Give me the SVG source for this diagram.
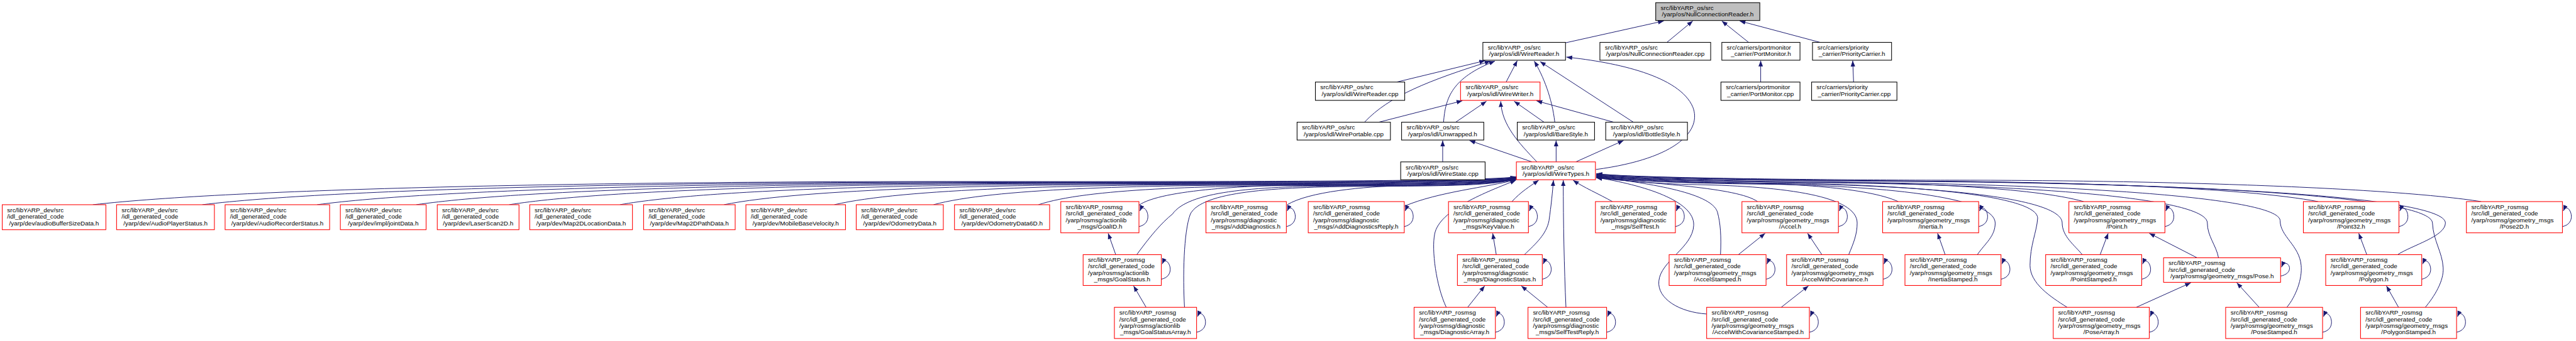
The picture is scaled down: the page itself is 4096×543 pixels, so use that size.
<svg xmlns="http://www.w3.org/2000/svg" width="4096" height="543" viewBox="0 0 4096 543">
<style>
.n rect{fill:#fff;stroke:#000;stroke-width:1.5}
.r rect{stroke:#f00}
.g rect{fill:#bfbfbf}
text{font-family:"Liberation Sans",Arial,sans-serif;font-size:14px;fill:#000}
.c{text-anchor:middle}
#edges path{fill:none;stroke:#191970;stroke-width:1.4;marker-end:url(#ah)}
</style>
<defs>
<marker id="ah" markerUnits="userSpaceOnUse" markerWidth="14" markerHeight="11" viewBox="0 0 14 11" refX="13" refY="5.5" orient="auto"><path d="M0,0.5 L13,5.5 L0,10.5 z" fill="#191970"/></marker>
</defs>
<rect width="4096" height="543" fill="#fff"/>
<g transform="scale(0.7102)">
<g id="edges">
<path d="M3505,96 L3725,47"/>
<path d="M3732,95 L3790,47"/>
<path d="M3915,95 L3855,47"/>
<path d="M4075,95 L3895,47"/>
<path d="M3942,184 L3942,136"/>
<path d="M4150,184 L4148,136"/>
<path d="M3127,184 L3325,136"/>
<path d="M3372,184 L3397,136"/>
<path d="M3055,274 C3110,215 3200,180 3337,137"/>
<path d="M3232,274 C3236,220 3250,175 3347,137"/>
<path d="M3481,274 C3475,220 3455,170 3435,137"/>
<path d="M3657,274 L3448,138"/>
<path d="M3573,380 C3760,355 3810,290 3790,240 C3760,170 3620,140 3507,128"/>
<path d="M3087,274 L3274,226"/>
<path d="M3259,274 L3328,227"/>
<path d="M3457,274 L3390,227"/>
<path d="M3613,274 L3440,226"/>
<path d="M3441,363 C3400,320 3362,280 3360,227"/>
<path d="M3230,363 L3230,315"/>
<path d="M3430,363 L3290,315"/>
<path d="M3484,363 L3484,315"/>
<path d="M3528,363 L3635,315"/>

<path d="M208,459 C527,423 1323,407 2120,407 C2439,407 3340,409 3395,396"/>
<path d="M453,459 C747,423 1483,408 2218,408 C2512,408 3340,410 3395,397"/>
<path d="M710,459 C979,423 1650,409 2321,409 C2590,409 3340,411 3395,397"/>
<path d="M932,459 C1178,423 1794,410 2410,410 C2656,410 3340,412 3395,398"/>
<path d="M1140,459 C1366,423 1929,411 2493,411 C2719,411 3340,413 3395,398"/>
<path d="M1388,459 C1589,423 2090,412 2592,412 C2793,412 3340,414 3395,399"/>
<path d="M1621,459 C1798,423 2242,413 2685,413 C2863,413 3340,415 3395,399"/>
<path d="M1868,459 C2021,423 2402,414 2784,414 C2937,414 3340,416 3395,400"/>
<path d="M2090,459 C2221,423 2547,415 2873,415 C3004,415 3340,417 3395,400"/>
<path d="M2325,459 C2432,423 2700,416 2967,416 C3074,416 3340,418 3395,401"/>
<path d="M2550,460 C2600,425 2800,415 2950,414 C3100,413 3340,414 3395,400"/>
<path d="M2882,459 C2930,430 3050,418 3150,416 C3250,415 3345,414 3395,401"/>
<path d="M3145,462 C3220,430 3330,420 3394,403"/>
<path d="M2545,571 C2575,530 2600,500 2625,480 C2660,430 2800,418 3000,417 C3200,416 3340,415 3395,400"/>
<path d="M2652,689 C2648,620 2650,520 2665,480 C2690,430 2850,419 3050,418 C3250,417 3345,416 3395,401"/>
<path d="M3238,689 C3215,640 3205,560 3212,525 C3222,470 3330,430 3394,404"/>
<path d="M3385,452 C3405,430 3425,418 3445,404"/>
<path d="M3413,571 C3440,545 3462,525 3468,495 C3473,460 3476,430 3478,404"/>
<path d="M3506,689 C3502,600 3500,500 3500,404"/>
<path d="M3610,452 C3580,435 3545,420 3522,404"/>
<path d="M3852,571 C3854,530 3852,500 3845,475 C3830,430 3680,410 3574,396"/>
<path d="M3821,704 C3760,700 3710,670 3714,630 C3718,585 3790,555 3792,505 C3794,450 3680,415 3574,398"/>
<path d="M4139,571 C4150,545 4158,525 4158,500 C4158,440 4000,418 3800,414 C3700,412 3630,405 3574,397"/>
<path d="M4427,571 C4445,545 4467,530 4467,500 C4467,440 4200,416 3950,413 C3750,411 3630,404 3574,396"/>
<path d="M4662,571 C4645,550 4617,530 4617,500 C4617,440 4300,416 4000,412 C3780,410 3630,403 3574,395"/>
<path d="M4628,689 C4590,665 4545,635 4545,595 C4545,550 4560,520 4562,490 C4565,440 4300,415 4000,411 C3780,409 3630,402 3574,394"/>
<path d="M4967,578 C4962,550 4942,530 4942,500 C4942,440 4500,414 4100,410 C3800,407 3630,400 3574,393"/>
<path d="M5120,689 C5140,665 5155,625 5152,595 C5148,550 5105,530 5105,495 C5105,440 4600,413 4150,409 C3820,406 3630,399 3574,392"/>
<path d="M5368,571 C5400,550 5475,530 5475,500 C5475,440 4900,412 4300,407 C3900,404 3640,398 3574,391"/>
<path d="M5430,689 C5450,665 5472,630 5470,600 C5468,565 5448,540 5446,500 C5444,440 4900,412 4300,406 C3900,403 3640,397 3574,390"/>
<path d="M3935,452 C3890,420 3700,412 3574,399"/>
<path d="M4250,452 C4182,421 4013,410 3844,410 C3776,410 3640,406 3574,397"/>
<path d="M4665,452 C4556,421 4283,408 4010,408 C3901,408 3640,404 3574,394"/>
<path d="M5190,452 C5028,421 4624,406 4220,406 C4058,406 3640,402 3574,392"/>
<path d="M5555,452 C5357,421 4861,404 4364,404 C4166,404 3640,400 3574,389"/>

<path d="M2498,571 L2481,523"/>
<path d="M2566,689 L2538,641"/>
<path d="M3350,571 L3342,523"/>
<path d="M3286,689 L3324,641"/>
<path d="M3465,689 L3406,641"/>
<path d="M3892,571 L3952,523"/>
<path d="M4079,571 L4047,523"/>
<path d="M3988,689 L4049,641"/>
<path d="M4355,571 L4338,523"/>
<path d="M4702,571 L4720,523"/>
<path d="M4919,578 L4812,523"/>
<path d="M4783,689 L4905,634"/>
<path d="M5058,689 L5008,634"/>
<path d="M5299,571 L5281,523"/>
<path d="M5370,689 L5343,641"/>

<path d="M2550,508 C2588,500 2562,448 2552,473"/>
<path d="M2880,508 C2918,500 2892,448 2882,473"/>
<path d="M3144,508 C3182,500 3156,448 3146,473"/>
<path d="M3422,508 C3460,500 3434,448 3424,473"/>
<path d="M3751,508 C3789,500 3763,448 3753,473"/>
<path d="M4116,508 C4154,500 4128,448 4118,473"/>
<path d="M4430,508 C4468,500 4442,448 4432,473"/>
<path d="M4847,508 C4885,500 4859,448 4849,473"/>
<path d="M5371,508 C5409,500 5383,448 5373,473"/>
<path d="M5737,508 C5775,500 5749,448 5739,473"/>
<path d="M2600,626 C2638,618 2612,567 2602,592"/>
<path d="M3453,626 C3491,618 3465,567 3455,592"/>
<path d="M3954,626 C3992,618 3966,567 3956,592"/>
<path d="M4216,626 C4254,618 4228,567 4218,592"/>
<path d="M4480,626 C4518,618 4492,567 4482,592"/>
<path d="M4795,626 C4833,618 4807,567 4797,592"/>
<path d="M5106,619 C5144,611 5118,574 5108,599"/>
<path d="M5422,626 C5460,618 5434,567 5424,592"/>
<path d="M2679,745 C2717,737 2691,685 2681,710"/>
<path d="M3348,745 C3386,737 3360,685 3350,710"/>
<path d="M3597,745 C3635,737 3609,685 3599,710"/>
<path d="M4051,745 C4089,737 4063,685 4053,710"/>
<path d="M4812,745 C4850,737 4824,685 4814,710"/>
<path d="M5200,745 C5238,737 5212,685 5202,710"/>
<path d="M5500,745 C5538,737 5512,685 5502,710"/>
</g>

<g id="n_root" class="n g"><rect x="3707" y="6" width="233" height="40"/><text x="3718" y="22.5">src/libYARP_os/src</text><text class="c" x="3823.5" y="37">/yarp/os/NullConnectionReader.h</text></g>
<g id="n_wirereader_h" class="n"><rect x="3320" y="95" width="185" height="40"/><text x="3331" y="111.5">src/libYARP_os/src</text><text class="c" x="3412.5" y="126">/yarp/os/idl/WireReader.h</text></g>
<g id="n_nullcr_cpp" class="n"><rect x="3582" y="95" width="248" height="40"/><text x="3593" y="111.5">src/libYARP_os/src</text><text class="c" x="3706" y="126">/yarp/os/NullConnectionReader.cpp</text></g>
<g id="n_portmonitor_h" class="n"><rect x="3855" y="95" width="175" height="40"/><text x="3866" y="111.5">src/carriers/portmonitor</text><text class="c" x="3942.5" y="126">_carrier/PortMonitor.h</text></g>
<g id="n_prioritycarrier_h" class="n"><rect x="4058" y="95" width="177" height="40"/><text x="4069" y="111.5">src/carriers/priority</text><text class="c" x="4146.5" y="126">_carrier/PriorityCarrier.h</text></g>
<g id="n_wirereader_cpp" class="n"><rect x="2945" y="184" width="200" height="41"/><text x="2956" y="200.5">src/libYARP_os/src</text><text class="c" x="3045" y="215">/yarp/os/idl/WireReader.cpp</text></g>
<g id="n_wirewriter_h" class="n r"><rect x="3270" y="184" width="178" height="41"/><text x="3281" y="200.5">src/libYARP_os/src</text><text class="c" x="3359" y="215">/yarp/os/idl/WireWriter.h</text></g>
<g id="n_portmonitor_cpp" class="n"><rect x="3853" y="184" width="177" height="41"/><text x="3864" y="200.5">src/carriers/portmonitor</text><text class="c" x="3941.5" y="215">_carrier/PortMonitor.cpp</text></g>
<g id="n_prioritycarrier_cpp" class="n"><rect x="4056" y="184" width="191" height="41"/><text x="4067" y="200.5">src/carriers/priority</text><text class="c" x="4151.5" y="215">_carrier/PriorityCarrier.cpp</text></g>
<g id="n_wireportable_cpp" class="n"><rect x="2904" y="274" width="209" height="40"/><text x="2915" y="290.5">src/libYARP_os/src</text><text class="c" x="3008.5" y="305">/yarp/os/idl/WirePortable.cpp</text></g>
<g id="n_unwrapped_h" class="n"><rect x="3138" y="274" width="184" height="40"/><text x="3149" y="290.5">src/libYARP_os/src</text><text class="c" x="3230" y="305">/yarp/os/idl/Unwrapped.h</text></g>
<g id="n_barestyle_h" class="n"><rect x="3397" y="274" width="173" height="40"/><text x="3408" y="290.5">src/libYARP_os/src</text><text class="c" x="3483.5" y="305">/yarp/os/idl/BareStyle.h</text></g>
<g id="n_bottlestyle_h" class="n"><rect x="3595" y="274" width="183" height="40"/><text x="3606" y="290.5">src/libYARP_os/src</text><text class="c" x="3686.5" y="305">/yarp/os/idl/BottleStyle.h</text></g>
<g id="n_wirestate_cpp" class="n"><rect x="3136" y="363" width="189" height="40"/><text x="3147" y="379.5">src/libYARP_os/src</text><text class="c" x="3230.5" y="394">/yarp/os/idl/WireState.cpp</text></g>
<g id="n_wiretypes_h" class="n r"><rect x="3395" y="363" width="177" height="40"/><text x="3406" y="379.5">src/libYARP_os/src</text><text class="c" x="3483.5" y="394">/yarp/os/idl/WireTypes.h</text></g>

<g id="n_audiobuffersizedata" class="n r"><rect x="5" y="459" width="232" height="56"/><text x="16" y="476.1">src/libYARP_dev/src</text><text x="16" y="490.7">/idl_generated_code</text><text class="c" x="121" y="505.3">/yarp/dev/audioBufferSizeData.h</text></g>
<g id="n_audioplayerstatus" class="n r"><rect x="261" y="459" width="219" height="56"/><text x="272" y="476.1">src/libYARP_dev/src</text><text x="272" y="490.7">/idl_generated_code</text><text class="c" x="370.5" y="505.3">/yarp/dev/AudioPlayerStatus.h</text></g>
<g id="n_audiorecorderstatus" class="n r"><rect x="504" y="459" width="234" height="56"/><text x="515" y="476.1">src/libYARP_dev/src</text><text x="515" y="490.7">/idl_generated_code</text><text class="c" x="621" y="505.3">/yarp/dev/AudioRecorderStatus.h</text></g>
<g id="n_jointdata" class="n r"><rect x="762" y="459" width="192" height="56"/><text x="773" y="476.1">src/libYARP_dev/src</text><text x="773" y="490.7">/idl_generated_code</text><text class="c" x="858" y="505.3">/yarp/dev/impl/jointData.h</text></g>
<g id="n_laserscan2d" class="n r"><rect x="979" y="459" width="183" height="56"/><text x="990" y="476.1">src/libYARP_dev/src</text><text x="990" y="490.7">/idl_generated_code</text><text class="c" x="1070.5" y="505.3">/yarp/dev/LaserScan2D.h</text></g>
<g id="n_map2dlocationdata" class="n r"><rect x="1186" y="459" width="230" height="56"/><text x="1197" y="476.1">src/libYARP_dev/src</text><text x="1197" y="490.7">/idl_generated_code</text><text class="c" x="1301" y="505.3">/yarp/dev/Map2DLocationData.h</text></g>
<g id="n_map2dpathdata" class="n r"><rect x="1441" y="459" width="205" height="56"/><text x="1452" y="476.1">src/libYARP_dev/src</text><text x="1452" y="490.7">/idl_generated_code</text><text class="c" x="1543.5" y="505.3">/yarp/dev/Map2DPathData.h</text></g>
<g id="n_mobilebasevelocity" class="n r"><rect x="1670" y="459" width="223" height="56"/><text x="1681" y="476.1">src/libYARP_dev/src</text><text x="1681" y="490.7">/idl_generated_code</text><text class="c" x="1781.5" y="505.3">/yarp/dev/MobileBaseVelocity.h</text></g>
<g id="n_odometrydata" class="n r"><rect x="1917" y="459" width="195" height="56"/><text x="1928" y="476.1">src/libYARP_dev/src</text><text x="1928" y="490.7">/idl_generated_code</text><text class="c" x="2014.5" y="505.3">/yarp/dev/OdometryData.h</text></g>
<g id="n_odometrydata6d" class="n r"><rect x="2137" y="459" width="213" height="56"/><text x="2148" y="476.1">src/libYARP_dev/src</text><text x="2148" y="490.7">/idl_generated_code</text><text class="c" x="2243.5" y="505.3">/yarp/dev/OdometryData6D.h</text></g>

<g id="n_goalid" class="n r"><rect x="2375" y="452" width="175" height="70"/><text x="2386" y="468.8">src/libYARP_rosmsg</text><text x="2386" y="483.4">/src/idl_generated_code</text><text x="2386" y="498">/yarp/rosmsg/actionlib</text><text class="c" x="2462.5" y="512.6">_msgs/GoalID.h</text></g>
<g id="n_adddiagnostics" class="n r"><rect x="2700" y="452" width="180" height="70"/><text x="2711" y="468.8">src/libYARP_rosmsg</text><text x="2711" y="483.4">/src/idl_generated_code</text><text x="2711" y="498">/yarp/rosmsg/diagnostic</text><text class="c" x="2790" y="512.6">_msgs/AddDiagnostics.h</text></g>
<g id="n_adddiagnosticsreply" class="n r"><rect x="2929" y="452" width="215" height="70"/><text x="2940" y="468.8">src/libYARP_rosmsg</text><text x="2940" y="483.4">/src/idl_generated_code</text><text x="2940" y="498">/yarp/rosmsg/diagnostic</text><text class="c" x="3036.5" y="512.6">_msgs/AddDiagnosticsReply.h</text></g>
<g id="n_keyvalue" class="n r"><rect x="3243" y="452" width="179" height="70"/><text x="3254" y="468.8">src/libYARP_rosmsg</text><text x="3254" y="483.4">/src/idl_generated_code</text><text x="3254" y="498">/yarp/rosmsg/diagnostic</text><text class="c" x="3332.5" y="512.6">_msgs/KeyValue.h</text></g>
<g id="n_selftest" class="n r"><rect x="3572" y="452" width="179" height="70"/><text x="3583" y="468.8">src/libYARP_rosmsg</text><text x="3583" y="483.4">/src/idl_generated_code</text><text x="3583" y="498">/yarp/rosmsg/diagnostic</text><text class="c" x="3661.5" y="512.6">_msgs/SelfTest.h</text></g>
<g id="n_accel" class="n r"><rect x="3900" y="452" width="216" height="70"/><text x="3911" y="468.8">src/libYARP_rosmsg</text><text x="3911" y="483.4">/src/idl_generated_code</text><text x="3911" y="498">/yarp/rosmsg/geometry_msgs</text><text class="c" x="4008" y="512.6">/Accel.h</text></g>
<g id="n_inertia" class="n r"><rect x="4215" y="452" width="215" height="70"/><text x="4226" y="468.8">src/libYARP_rosmsg</text><text x="4226" y="483.4">/src/idl_generated_code</text><text x="4226" y="498">/yarp/rosmsg/geometry_msgs</text><text class="c" x="4322.5" y="512.6">/Inertia.h</text></g>
<g id="n_point" class="n r"><rect x="4632" y="452" width="215" height="70"/><text x="4643" y="468.8">src/libYARP_rosmsg</text><text x="4643" y="483.4">/src/idl_generated_code</text><text x="4643" y="498">/yarp/rosmsg/geometry_msgs</text><text class="c" x="4739.5" y="512.6">/Point.h</text></g>
<g id="n_point32" class="n r"><rect x="5157" y="452" width="214" height="70"/><text x="5168" y="468.8">src/libYARP_rosmsg</text><text x="5168" y="483.4">/src/idl_generated_code</text><text x="5168" y="498">/yarp/rosmsg/geometry_msgs</text><text class="c" x="5264" y="512.6">/Point32.h</text></g>
<g id="n_pose2d" class="n r"><rect x="5522" y="452" width="215" height="70"/><text x="5533" y="468.8">src/libYARP_rosmsg</text><text x="5533" y="483.4">/src/idl_generated_code</text><text x="5533" y="498">/yarp/rosmsg/geometry_msgs</text><text class="c" x="5629.5" y="512.6">/Pose2D.h</text></g>

<g id="n_goalstatus" class="n r"><rect x="2425" y="571" width="175" height="69"/><text x="2436" y="587.3">src/libYARP_rosmsg</text><text x="2436" y="601.9">/src/idl_generated_code</text><text x="2436" y="616.5">/yarp/rosmsg/actionlib</text><text class="c" x="2512.5" y="631.1">_msgs/GoalStatus.h</text></g>
<g id="n_diagnosticstatus" class="n r"><rect x="3263" y="571" width="190" height="69"/><text x="3274" y="587.3">src/libYARP_rosmsg</text><text x="3274" y="601.9">/src/idl_generated_code</text><text x="3274" y="616.5">/yarp/rosmsg/diagnostic</text><text class="c" x="3358" y="631.1">_msgs/DiagnosticStatus.h</text></g>
<g id="n_accelstamped" class="n r"><rect x="3737" y="571" width="217" height="69"/><text x="3748" y="587.3">src/libYARP_rosmsg</text><text x="3748" y="601.9">/src/idl_generated_code</text><text x="3748" y="616.5">/yarp/rosmsg/geometry_msgs</text><text class="c" x="3845.5" y="631.1">/AccelStamped.h</text></g>
<g id="n_accelwithcovariance" class="n r"><rect x="4000" y="571" width="216" height="69"/><text x="4011" y="587.3">src/libYARP_rosmsg</text><text x="4011" y="601.9">/src/idl_generated_code</text><text x="4011" y="616.5">/yarp/rosmsg/geometry_msgs</text><text class="c" x="4108" y="631.1">/AccelWithCovariance.h</text></g>
<g id="n_inertiastamped" class="n r"><rect x="4265" y="571" width="215" height="69"/><text x="4276" y="587.3">src/libYARP_rosmsg</text><text x="4276" y="601.9">/src/idl_generated_code</text><text x="4276" y="616.5">/yarp/rosmsg/geometry_msgs</text><text class="c" x="4372.5" y="631.1">/InertiaStamped.h</text></g>
<g id="n_pointstamped" class="n r"><rect x="4580" y="571" width="215" height="69"/><text x="4591" y="587.3">src/libYARP_rosmsg</text><text x="4591" y="601.9">/src/idl_generated_code</text><text x="4591" y="616.5">/yarp/rosmsg/geometry_msgs</text><text class="c" x="4687.5" y="631.1">/PointStamped.h</text></g>
<g id="n_pose" class="n r"><rect x="4844" y="578" width="262" height="55"/><text x="4855" y="594.6">src/libYARP_rosmsg</text><text x="4855" y="609.2">/src/idl_generated_code</text><text class="c" x="4975" y="623.8">/yarp/rosmsg/geometry_msgs/Pose.h</text></g>
<g id="n_polygon" class="n r"><rect x="5207" y="571" width="215" height="69"/><text x="5218" y="587.3">src/libYARP_rosmsg</text><text x="5218" y="601.9">/src/idl_generated_code</text><text x="5218" y="616.5">/yarp/rosmsg/geometry_msgs</text><text class="c" x="5314.5" y="631.1">/Polygon.h</text></g>

<g id="n_goalstatusarray" class="n r"><rect x="2495" y="689" width="184" height="70"/><text x="2506" y="705.8">src/libYARP_rosmsg</text><text x="2506" y="720.4">/src/idl_generated_code</text><text x="2506" y="735">/yarp/rosmsg/actionlib</text><text class="c" x="2587" y="749.6">_msgs/GoalStatusArray.h</text></g>
<g id="n_diagnosticarray" class="n r"><rect x="3166" y="689" width="182" height="70"/><text x="3177" y="705.8">src/libYARP_rosmsg</text><text x="3177" y="720.4">/src/idl_generated_code</text><text x="3177" y="735">/yarp/rosmsg/diagnostic</text><text class="c" x="3257" y="749.6">_msgs/DiagnosticArray.h</text></g>
<g id="n_selftestreply" class="n r"><rect x="3421" y="689" width="176" height="70"/><text x="3432" y="705.8">src/libYARP_rosmsg</text><text x="3432" y="720.4">/src/idl_generated_code</text><text x="3432" y="735">/yarp/rosmsg/diagnostic</text><text class="c" x="3509" y="749.6">_msgs/SelfTestReply.h</text></g>
<g id="n_accelwithcovariancestamped" class="n r"><rect x="3821" y="689" width="230" height="70"/><text x="3832" y="705.8">src/libYARP_rosmsg</text><text x="3832" y="720.4">/src/idl_generated_code</text><text x="3832" y="735">/yarp/rosmsg/geometry_msgs</text><text class="c" x="3936" y="749.6">/AccelWithCovarianceStamped.h</text></g>
<g id="n_posearray" class="n r"><rect x="4597" y="689" width="215" height="70"/><text x="4608" y="705.8">src/libYARP_rosmsg</text><text x="4608" y="720.4">/src/idl_generated_code</text><text x="4608" y="735">/yarp/rosmsg/geometry_msgs</text><text class="c" x="4704.5" y="749.6">/PoseArray.h</text></g>
<g id="n_posestamped" class="n r"><rect x="4983" y="689" width="217" height="70"/><text x="4994" y="705.8">src/libYARP_rosmsg</text><text x="4994" y="720.4">/src/idl_generated_code</text><text x="4994" y="735">/yarp/rosmsg/geometry_msgs</text><text class="c" x="5091.5" y="749.6">/PoseStamped.h</text></g>
<g id="n_polygonstamped" class="n r"><rect x="5285" y="689" width="215" height="70"/><text x="5296" y="705.8">src/libYARP_rosmsg</text><text x="5296" y="720.4">/src/idl_generated_code</text><text x="5296" y="735">/yarp/rosmsg/geometry_msgs</text><text class="c" x="5392.5" y="749.6">/PolygonStamped.h</text></g>
</g>
</svg>
